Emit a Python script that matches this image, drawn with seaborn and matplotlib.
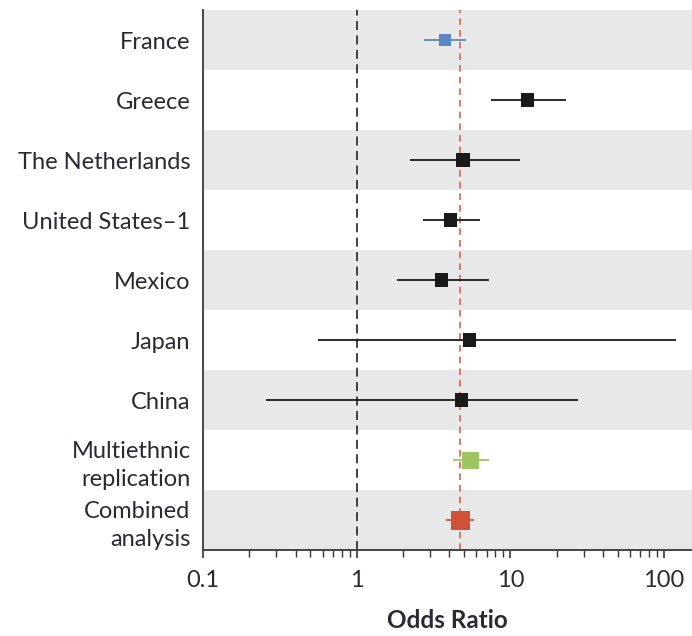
import pandas as pd
import seaborn as sns
import matplotlib.pyplot as plt
import numpy as np
from matplotlib.ticker import LogLocator, FixedLocator, NullFormatter

# study rows, top to bottom
studies = ['France', 'Greece', 'The Netherlands', 'United States\u20131', 'Mexico',
           'Japan', 'China', 'Multiethnic\nreplication', 'Combined\nanalysis']
odds_ratio = [3.74, 12.9, 4.92, 4.09, 3.57, 5.43, 4.82, 5.52, 4.75]
ci_low = [2.73, 7.52, 2.23, 2.69, 1.82, 0.563, 0.258, 4.24, 3.79]
ci_high = [5.12, 22.9, 11.6, 6.3, 7.3, 119.0, 27.5, 7.26, 5.80]
group = ['first', 'study', 'study', 'study', 'study', 'study', 'study', 'replication', 'combined']
combined_or = 4.72

group_colors = {'first': '#5b87c5', 'study': '#1a1a1a',
                'replication': '#9dc561', 'combined': '#cf5238'}
group_sizes = {'first': 78, 'study': 95, 'replication': 150, 'combined': 190}

df = pd.DataFrame({'study': studies, 'or': odds_ratio, 'lo': ci_low,
                   'hi': ci_high, 'group': group})
df['pos'] = np.arange(len(df))

sns.set_style('white')
plt.rcParams['font.family'] = ['Lato', 'DejaVu Sans']
text_color = '#2a2a35'

fig = plt.figure(figsize=(6.92, 6.36), dpi=100)
ax = fig.add_axes([0.2934, 0.135, 0.7066, 0.849])

# alternating grey bands
for i in range(0, len(df), 2):
    ax.axhspan(i - 0.5, i + 0.5, color='#e8e8e8', lw=0, zorder=0)

ax.axvline(1, color='#333333', ls=(0, (5, 3)), lw=1.3, zorder=1)
ax.axvline(combined_or, color='#d9644f', ls=(0, (4, 3)), lw=1.2, zorder=1)

# confidence intervals
for _, r in df.iterrows():
    ax.hlines(r['pos'], r['lo'], r['hi'], color=group_colors[r['group']],
              lw=1.3, zorder=2)

sns.scatterplot(data=df, x='or', y='pos', hue='group', size='group',
                palette=group_colors, sizes=group_sizes, marker='s',
                edgecolor='none', legend=False, ax=ax, zorder=3)

ax.set_xscale('log')
ax.set_xlim(0.1, 152)
ax.set_ylim(len(df) - 0.5, -0.5)
ax.set_yticks(df['pos'])
ax.set_yticklabels(df['study'], fontsize=17, color=text_color, ha='right',
                   linespacing=1.4)
ax.tick_params(axis='y', length=0, pad=9)

ax.xaxis.set_major_locator(FixedLocator([0.1, 1, 10, 100]))
ax.set_xticklabels(['0.1', '1', '10', '100'])
ax.xaxis.set_minor_locator(LogLocator(base=10, subs=np.arange(2, 10)))
ax.xaxis.set_minor_formatter(NullFormatter())
ax.tick_params(axis='x', which='major', length=6, width=1.2, labelsize=17,
               colors='#333333', labelcolor=text_color, direction='out',
               pad=8, bottom=True)
ax.tick_params(axis='x', which='minor', length=5, width=1.0, colors='#333333',
               direction='out', bottom=True)

for s in ['top', 'right']:
    ax.spines[s].set_visible(False)
for s in ['left', 'bottom']:
    ax.spines[s].set_color('#444444')
    ax.spines[s].set_linewidth(1.4)

ax.set_xlabel('Odds Ratio', fontsize=17.5, fontweight='bold', color=text_color, labelpad=13)
ax.set_ylabel('')

fig.savefig('out.png', dpi=100, facecolor='white')
